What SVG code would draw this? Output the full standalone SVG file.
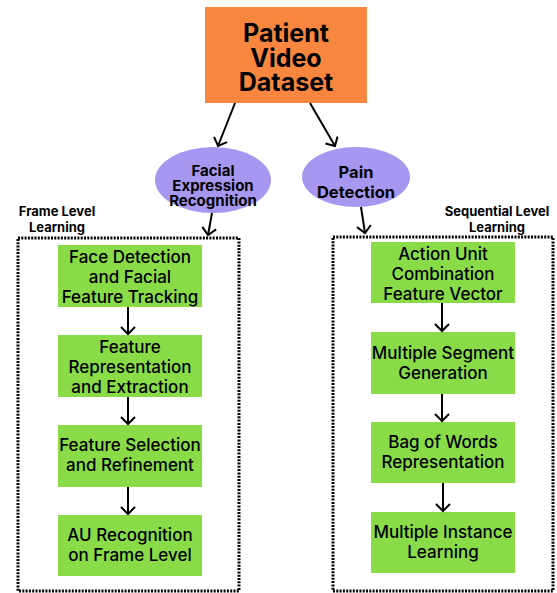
<svg xmlns="http://www.w3.org/2000/svg" width="557" height="593" viewBox="0 0 557 593">
<style>
.t{font-family:Inter,"Liberation Sans",sans-serif;fill:#000;text-anchor:middle}
.big{font-size:25px;font-weight:700}
.el{font-size:15px;font-weight:700}
.el2{font-size:16.5px;font-weight:700}
.lab{font-size:13px;font-weight:700}
.gt{font-size:17px;font-weight:500}
.g{fill:#89DC48}
.ell{fill:#A797F0}
.box{fill:none;stroke:#000;stroke-width:3;stroke-dasharray:2 1.3}
.c{stroke:#000;stroke-width:2;fill:none;marker-end:url(#ah)}
</style>
<defs>
<marker id="ah" markerWidth="16" markerHeight="16" refX="8" refY="8" orient="auto" markerUnits="userSpaceOnUse">
<polyline points="1,1 8,8 1,15" fill="none" stroke="#000" stroke-width="2"/>
</marker>
</defs>
<rect width="557" height="593" fill="#fff"/>
<g id="dataset">
<rect x="205" y="7" width="162" height="96" fill="#F8863F"/>
<text class="t big" x="286" y="42">Patient</text>
<text class="t big" x="286" y="67">Video</text>
<text class="t big" x="286" y="91">Dataset</text>
</g>
<g id="fer">
<ellipse class="ell" cx="213" cy="180" rx="58" ry="33"/>
<text class="t el" x="213" y="175.5">Facial</text>
<text class="t el" x="213" y="190.5">Expression</text>
<text class="t el" x="213" y="205.5">Recognition</text>
</g>
<g id="pain">
<ellipse class="ell" cx="356" cy="177" rx="54" ry="30"/>
<text class="t el2" x="356" y="178">Pain</text>
<text class="t el2" x="356" y="198">Detection</text>
</g>
<g id="frame-box">
<rect class="box" x="18" y="238" width="221" height="353"/>
<text class="t lab" x="57" y="216">Frame Level</text>
<text class="t lab" x="57" y="232">Learning</text>
</g>
<g id="seq-box">
<rect class="box" x="333" y="237" width="220" height="354"/>
<text class="t lab" x="497" y="216">Sequential Level</text>
<text class="t lab" x="497" y="232">Learning</text>
</g>
<g id="l1"><rect class="g" x="58" y="245" width="144" height="62"/>
<text class="t gt" x="130" y="263">Face Detection</text>
<text class="t gt" x="130" y="283">and Facial</text>
<text class="t gt" x="130" y="303">Feature Tracking</text></g>
<g id="l2"><rect class="g" x="58" y="335" width="144" height="62"/>
<text class="t gt" x="130" y="353">Feature</text>
<text class="t gt" x="130" y="373">Representation</text>
<text class="t gt" x="130" y="393">and Extraction</text></g>
<g id="l3"><rect class="g" x="58" y="425" width="144" height="62"/>
<text class="t gt" x="130" y="451">Feature Selection</text>
<text class="t gt" x="130" y="471">and Refinement</text></g>
<g id="l4"><rect class="g" x="58" y="515" width="144" height="61"/>
<text class="t gt" x="130" y="541">AU Recognition</text>
<text class="t gt" x="130" y="561">on Frame Level</text></g>
<g id="r1"><rect class="g" x="371" y="242" width="144" height="61"/>
<text class="t gt" x="443" y="260">Action Unit</text>
<text class="t gt" x="443" y="280">Combination</text>
<text class="t gt" x="443" y="300">Feature Vector</text></g>
<g id="r2"><rect class="g" x="371" y="332" width="144" height="62"/>
<text class="t gt" x="443" y="359">Multiple Segment</text>
<text class="t gt" x="443" y="379">Generation</text></g>
<g id="r3"><rect class="g" x="371" y="422" width="144" height="61"/>
<text class="t gt" x="443" y="448">Bag of Words</text>
<text class="t gt" x="443" y="468">Representation</text></g>
<g id="r4"><rect class="g" x="371" y="512" width="144" height="61"/>
<text class="t gt" x="443" y="538">Multiple Instance</text>
<text class="t gt" x="443" y="558">Learning</text></g>
<g id="connectors">
<line class="c" x1="235" y1="103" x2="218" y2="146"/>
<line class="c" x1="310" y1="103" x2="335" y2="146"/>
<line class="c" x1="212" y1="213" x2="208" y2="235"/>
<line class="c" x1="361" y1="207" x2="365" y2="233"/>
<line class="c" x1="128" y1="307" x2="128" y2="334"/>
<line class="c" x1="128" y1="397" x2="128" y2="424"/>
<line class="c" x1="128" y1="487" x2="128" y2="514"/>
<line class="c" x1="442" y1="303" x2="442" y2="331"/>
<line class="c" x1="442" y1="394" x2="442" y2="421"/>
<line class="c" x1="443" y1="483" x2="443" y2="511"/>
</g>
</svg>
